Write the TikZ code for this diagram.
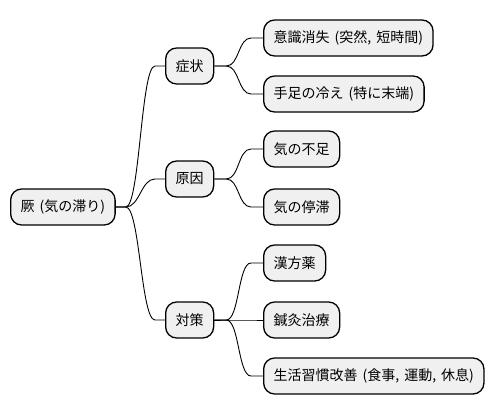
\documentclass[tikz,border=0pt]{standalone}
\usepackage{fontspec}
\setmainfont[WordSpace=1.6]{Noto Sans CJK JP}
\begin{document}
\begin{tikzpicture}[x=1pt, y=-1pt,
    box/.style={draw, line width=1.3pt, fill=black!6, rounded corners=11pt,
      minimum height=36pt, inner xsep=10pt, anchor=west,
      font=\fontsize{14}{16}\selectfont},
    link/.style={line width=0.9pt}]
    \useasboundingbox (0,0) rectangle (495,415);
    \node[box] (root) at (10,207) {厥 (気の滞り)};
    \node[box] (sym) at (165,66) {症状};
    \node[box] (cause) at (165,179) {原因};
    \node[box] (meas) at (165,320) {対策};
    \node[box] (sym1) at (263,38) {意識消失 (突然, 短時間)};
    \node[box] (sym2) at (263,94) {手足の冷え (特に末端)};
    \node[box] (cause1) at (263,149) {気の不足};
    \node[box] (cause2) at (263,207) {気の停滞};
    \node[box] (meas1) at (263,263) {漢方薬};
    \node[box] (meas2) at (263,320) {鍼灸治療};
    \node[box] (meas3) at (263,376) {生活習慣改善 (食事, 運動, 休息)};
    \foreach \a/\b in {root/sym, root/cause, root/meas}
      \draw[link] (\a.east) -- ++(10,0) .. controls +(14,0) and +(-14,0) .. ([xshift=-10pt]\b.west) -- (\b.west);
    \foreach \a/\b in {sym/sym1, sym/sym2, cause/cause1, cause/cause2, meas/meas1, meas/meas2, meas/meas3}
      \draw[link] (\a.east) -- ++(12,0) .. controls +(13,0) and +(-13,0) .. ([xshift=-12pt]\b.west) -- (\b.west);
  \end{tikzpicture}
\end{document}
